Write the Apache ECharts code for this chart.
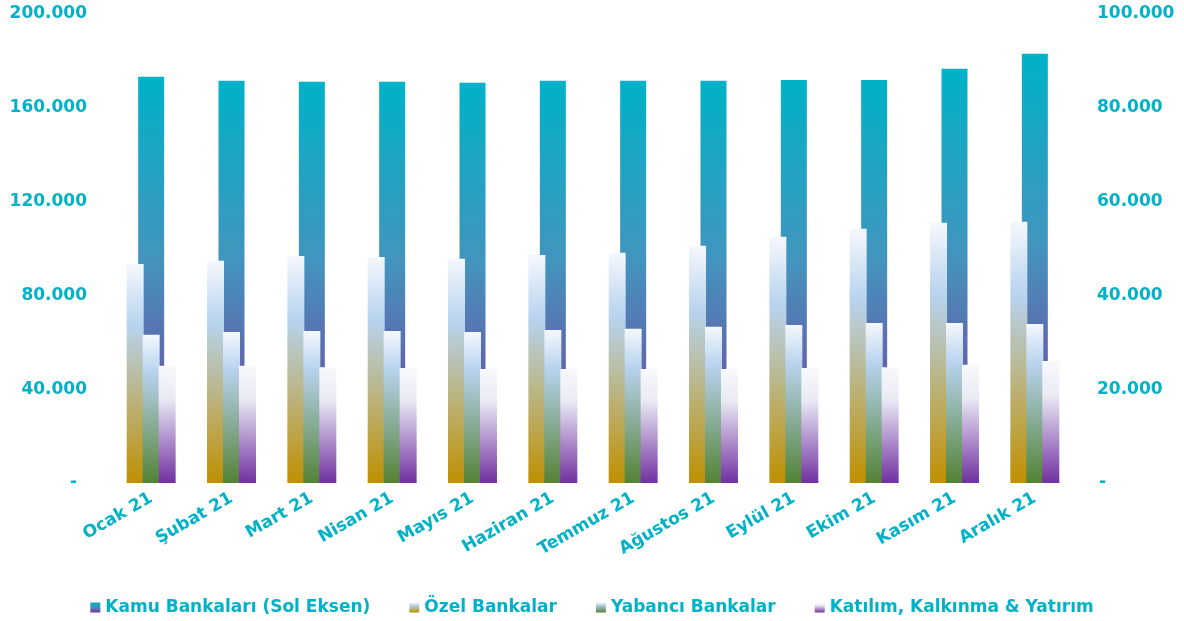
<!DOCTYPE html>
<html>
<head>
<meta charset="utf-8">
<script src="https://cdn.jsdelivr.net/npm/echarts@6/dist/echarts.min.js"></script>
<style>
html,body{margin:0;padding:0;background:#fff;}
#chart{width:1184px;height:621px;}
</style>
</head>
<body>
<div id="chart"></div>
<script>
var categories = ['Ocak 21','Şubat 21','Mart 21','Nisan 21','Mayıs 21','Haziran 21','Temmuz 21','Ağustos 21','Eylül 21','Ekim 21','Kasım 21','Aralık 21'];
var kamu = [173200, 171500, 171100, 171100, 170700, 171500, 171500, 171500, 171900, 171900, 176600, 183000];
var ozel = [46700, 47400, 48400, 48200, 47800, 48600, 49100, 50600, 52500, 54200, 55500, 55700];
var yabanci = [31600, 32200, 32400, 32400, 32200, 32600, 32900, 33300, 33700, 34100, 34100, 33900];
var katilim = [25000, 25000, 24700, 24500, 24300, 24300, 24300, 24300, 24500, 24700, 25200, 26000];
var seriesNames = ['Kamu Bankaları (Sol Eksen)', 'Özel Bankalar', 'Yabancı Bankalar', 'Katılım, Kalkınma & Yatırım'];
var leftTicks = [0, 40000, 80000, 120000, 160000, 200000];
var rightTicks = [0, 20000, 40000, 60000, 80000, 100000];

var TEAL = '#00B2C8';
var FONT = 'DejaVu Sans';

function fmt(v) {
  return String(Math.round(v)).replace(/\B(?=(\d{3})+(?!\d))/g, '.');
}
function grad(stops) {
  return new echarts.graphic.LinearGradient(0, 0, 0, 1, stops.map(function (s) { return { offset: s[0], color: s[1] }; }));
}

var chart = echarts.init(document.getElementById('chart'));
var labelStyle = { color: TEAL, fontFamily: FONT, fontWeight: 'bold', fontSize: 17 };

chart.setOption({
  animation: false,
  backgroundColor: '#ffffff',
  grid: { left: 111, right: 109, top: 14, bottom: 138 },
  legend: {
    data: seriesNames,
    left: 'center',
    top: 594,
    icon: 'rect',
    itemWidth: 10,
    itemHeight: 10,
    itemGap: 39,
    textStyle: { color: TEAL, fontFamily: FONT, fontWeight: 'bold', fontSize: 17 }
  },
  xAxis: [
    {
      type: 'category',
      data: categories,
      axisLine: { show: false },
      axisTick: { show: false },
      axisLabel: Object.assign({ rotate: 30, margin: 14, interval: 0 }, labelStyle)
    },
    {
      type: 'category',
      data: categories,
      show: false
    }
  ],
  yAxis: [
    {
      type: 'value',
      min: leftTicks[0],
      max: leftTicks[leftTicks.length - 1],
      interval: leftTicks[1] - leftTicks[0],
      splitLine: { show: false },
      axisLine: { show: false },
      axisTick: { show: false },
      axisLabel: Object.assign({
        margin: 24,
        formatter: function (v) { return v === 0 ? '{z|-}' : fmt(v); },
        rich: { z: { color: TEAL, fontFamily: FONT, fontWeight: 'bold', fontSize: 17, padding: [0, 10, 0, 0] } }
      }, labelStyle)
    },
    {
      type: 'value',
      position: 'right',
      min: rightTicks[0],
      max: rightTicks[rightTicks.length - 1],
      interval: rightTicks[1] - rightTicks[0],
      splitLine: { show: false },
      axisLine: { show: false },
      axisTick: { show: false },
      axisLabel: Object.assign({
        margin: 22,
        formatter: function (v) { return v === 0 ? '{z|-}' : fmt(v); },
        rich: { z: { color: TEAL, fontFamily: FONT, fontWeight: 'bold', fontSize: 17, padding: [0, 0, 0, 2] } }
      }, labelStyle)
    }
  ],
  series: [
    {
      name: seriesNames[0],
      type: 'bar',
      xAxisIndex: 0,
      yAxisIndex: 0,
      barWidth: 26,
      z: 1,
      data: kamu,
      itemStyle: { color: grad([[0, '#00B2C8'], [0.45, '#4394BE'], [0.72, '#6264AC'], [1, '#7030A0']]) }
    },
    {
      name: seriesNames[1],
      type: 'bar',
      xAxisIndex: 1,
      yAxisIndex: 1,
      barWidth: 17,
      barGap: '-6%',
      z: 3,
      data: ozel,
      itemStyle: { color: grad([[0, '#F5F8FD'], [0.28, '#B7D3EE'], [1, '#BF9000']]) }
    },
    {
      name: seriesNames[2],
      type: 'bar',
      xAxisIndex: 1,
      yAxisIndex: 1,
      barWidth: 17,
      barGap: '-6%',
      z: 3,
      data: yabanci,
      itemStyle: { color: grad([[0, '#F5F8FD'], [0.25, '#B7D3EE'], [1, '#548235']]) }
    },
    {
      name: seriesNames[3],
      type: 'bar',
      xAxisIndex: 1,
      yAxisIndex: 1,
      barWidth: 17,
      barGap: '-6%',
      z: 3,
      data: katilim,
      itemStyle: { color: grad([[0, '#F8F9FC'], [0.28, '#EAEAF4'], [1, '#7030A0']]) }
    }
  ]
});
</script>
</body>
</html>
